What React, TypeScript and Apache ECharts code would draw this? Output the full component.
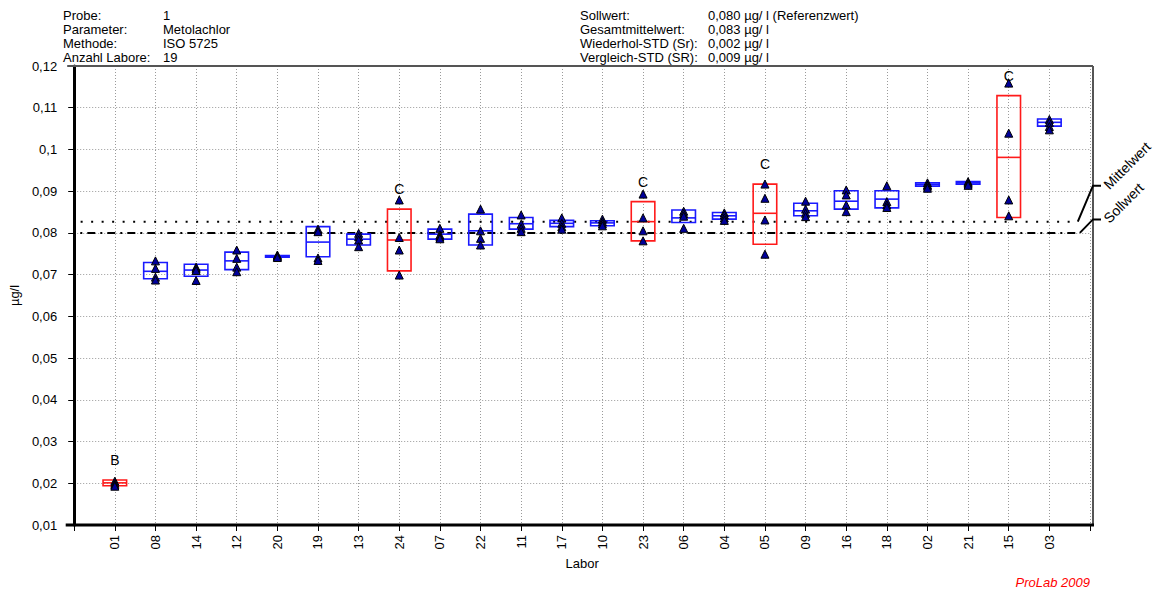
import React, { useEffect, useRef } from 'react';
import * as echarts from 'echarts';

const labs = ['01', '08', '14', '12', '20', '19', '13', '24', '07', '22', '11', '17', '10', '23', '06', '04', '05', '09', '16', '18', '02', '21', '15', '03'];
const boxLow = [0.0194, 0.0690, 0.0696, 0.0712, 0.0742, 0.0743, 0.0771, 0.0709, 0.0785, 0.0771, 0.0809, 0.0815, 0.0817, 0.0781, 0.0825, 0.0833, 0.0773, 0.0841, 0.0857, 0.0860, 0.0912, 0.0917, 0.0837, 0.1056];
const boxHigh = [0.0208, 0.0729, 0.0725, 0.0754, 0.0746, 0.0815, 0.0797, 0.0857, 0.0809, 0.0845, 0.0837, 0.0830, 0.0829, 0.0875, 0.0855, 0.0849, 0.0917, 0.0871, 0.0901, 0.0901, 0.0920, 0.0923, 0.1129, 0.1073];
const boxMid = [0.0201, 0.0708, 0.0711, 0.0733, 0.0744, 0.0778, 0.0785, 0.0783, 0.0797, 0.0805, 0.0822, 0.0823, 0.0824, 0.0827, 0.0836, 0.0841, 0.0847, 0.0853, 0.0876, 0.0881, 0.0916, 0.0920, 0.0981, 0.1065];
const points = [
  [0.0205, 0.0200, 0.0196, 0.0193],
  [0.0733, 0.0715, 0.0694, 0.0687],
  [0.0718, 0.0715, 0.0710, 0.0686],
  [0.0759, 0.0739, 0.0718, 0.0707],
  [0.0747, 0.0745, 0.0743, 0.0741],
  [0.0809, 0.0803, 0.0740, 0.0734],
  [0.0799, 0.0791, 0.0783, 0.0767],
  [0.0879, 0.0789, 0.0759, 0.0699],
  [0.0811, 0.0795, 0.0790, 0.0786],
  [0.0857, 0.0805, 0.0787, 0.0771],
  [0.0843, 0.0821, 0.0811, 0.0803],
  [0.0836, 0.0823, 0.0815, 0.0809],
  [0.0833, 0.0827, 0.0822, 0.0817],
  [0.0893, 0.0836, 0.0805, 0.0781],
  [0.0852, 0.0846, 0.0840, 0.0811],
  [0.0848, 0.0843, 0.0836, 0.0830],
  [0.0917, 0.0883, 0.0831, 0.0749],
  [0.0876, 0.0857, 0.0847, 0.0839],
  [0.0903, 0.0891, 0.0867, 0.0851],
  [0.0913, 0.0875, 0.0867, 0.0861],
  [0.0920, 0.0915, 0.0912, 0.0907],
  [0.0923, 0.0920, 0.0917, 0.0914],
  [0.1159, 0.1039, 0.0879, 0.0841],
  [0.1072, 0.1065, 0.1055, 0.1047],
];
const flags = ['B', '', '', '', '', '', '', 'C', '', '', '', '', '', 'C', '', '', 'C', '', '', '', '', '', 'C', ''];
const sollwert = 0.080;
const mittelwert = 0.0827;
const headerLeft = [['Probe:', '1'], ['Parameter:', 'Metolachlor'], ['Methode:', 'ISO 5725'], ['Anzahl Labore:', '19']];
const headerRight = [
  ['Sollwert:', '0,080 µg/ l (Referenzwert)'],
  ['Gesamtmittelwert:', '0,083 µg/ l'],
  ['Wiederhol-STD (Sr):', '0,002 µg/ l'],
  ['Vergleich-STD (SR):', '0,009 µg/ l'],
];

const FF = '"Liberation Sans", Arial, sans-serif';
const FONT = '13px ' + FF;

function txt(text: string, x: number, y: number, extra: any = {}) {
  return {
    type: 'text',
    x,
    y,
    silent: true,
    style: {
      text,
      font: FONT,
      fill: '#000',
      align: 'left',
      textAlign: 'left',
      verticalAlign: 'middle',
      textVerticalAlign: 'middle',
      ...extra,
    },
  };
}

export default function App() {
  const ref = useRef<HTMLDivElement>(null);
  useEffect(() => {
    document.body.style.margin = '0';
    const chart = echarts.init(ref.current!, null, { renderer: 'svg' });
    const boxData = labs.map((_, i) => [i + 1, boxLow[i], boxHigh[i], boxMid[i]]);
    const pointData: number[][] = [];
    points.forEach((arr, i) => arr.forEach((v) => pointData.push([i + 1, v])));
    const gridLine = { show: true, lineStyle: { color: '#9a9a9a', type: [1, 2], width: 1 } };

    chart.setOption({
      animation: false,
      textStyle: { fontFamily: FF },
      grid: { left: 70, right: 74, top: 66, bottom: 69 },
      xAxis: {
        type: 'value',
        min: 0,
        max: 25,
        interval: 1,
        name: 'Labor',
        nameLocation: 'middle',
        nameGap: 31,
        nameTextStyle: { fontSize: 13, color: '#000', fontFamily: FF },
        axisLine: { show: false },
        axisTick: { show: true, length: 6, lineStyle: { color: '#000', width: 1 } },
        axisLabel: {
          rotate: 90,
          margin: 10,
          fontSize: 13,
          color: '#000',
          fontFamily: FF,
          formatter: (v: number) => labs[Math.round(v) - 1] ?? '',
        },
        splitLine: gridLine,
      },
      yAxis: {
        type: 'value',
        min: 0.01,
        max: 0.12,
        interval: 0.01,
        offset: 7,
        name: 'µg/l',
        nameLocation: 'middle',
        nameGap: 46,
        nameTextStyle: { fontSize: 13, color: '#000', fontFamily: FF },
        axisLine: { show: true, lineStyle: { color: '#000', width: 3 } },
        axisTick: { show: true, length: 6, lineStyle: { color: '#000', width: 1 } },
        axisLabel: {
          margin: 10,
          fontSize: 13,
          color: '#000',
          fontFamily: FF,
          formatter: (v: number) => String(Math.round(v * 100) / 100).replace('.', ','),
        },
        splitLine: gridLine,
      },
      series: [
        {
          type: 'line',
          data: [[-0.17, sollwert], [24.75, sollwert]],
          clip: false,
          symbol: 'none',
          silent: true,
          z: 3,
          lineStyle: { color: '#000', width: 2, type: [8, 5, 2, 5] },
        },
        {
          type: 'line',
          data: [[-0.1, mittelwert], [24.7, mittelwert]],
          clip: false,
          symbol: 'none',
          silent: true,
          z: 3,
          lineStyle: { color: '#000', width: 2, type: [2, 8.5] },
        },
        {
          type: 'custom',
          z: 4,
          data: boxData,
          encode: { x: 0, y: [1, 2, 3] },
          renderItem: (params: any, api: any) => {
            const x = api.value(0);
            const lo = api.value(1);
            const hi = api.value(2);
            const mid = api.value(3);
            const p1 = api.coord([x - 0.29, hi]);
            const p2 = api.coord([x + 0.29, lo]);
            const pm = api.coord([x, mid]);
            const flag = flags[params.dataIndex];
            const color = flag ? '#ff1a1a' : '#1a1aff';
            const children: any[] = [
              {
                type: 'rect',
                shape: { x: p1[0], y: p1[1], width: p2[0] - p1[0], height: Math.max(p2[1] - p1[1], 1) },
                style: { fill: 'none', stroke: color, lineWidth: 1.6 },
              },
              {
                type: 'line',
                shape: { x1: p1[0], y1: pm[1], x2: p2[0], y2: pm[1] },
                style: { stroke: color, lineWidth: 1.6 },
              },
            ];
            if (flag) {
              children.push({
                type: 'text',
                x: pm[0],
                y: p1[1] - 20,
                style: {
                  text: flag,
                  font: '14px ' + FF,
                  fill: '#000',
                  align: 'center',
                  textAlign: 'center',
                  verticalAlign: 'middle',
                  textVerticalAlign: 'middle',
                },
              });
            }
            return { type: 'group', children };
          },
        },
        {
          type: 'scatter',
          z: 5,
          data: pointData,
          symbol: 'triangle',
          symbolSize: 8,
          silent: true,
          itemStyle: { color: '#00009a', borderColor: '#000', borderWidth: 1, opacity: 1 },
        },
      ],
    });

    const tl = chart.convertToPixel({ gridIndex: 0 }, [0, 0.12]) as number[];
    const br = chart.convertToPixel({ gridIndex: 0 }, [25, 0.01]) as number[];
    const yM = (chart.convertToPixel({ gridIndex: 0 }, [0, mittelwert]) as number[])[1];
    const yS = (chart.convertToPixel({ gridIndex: 0 }, [0, sollwert]) as number[])[1];
    const xEndM = (chart.convertToPixel({ gridIndex: 0 }, [24.7, 0]) as number[])[0];
    const xEndS = (chart.convertToPixel({ gridIndex: 0 }, [24.75, 0]) as number[])[0];
    const left = tl[0] - 7;
    const right = br[0] + 3;
    const top = tl[1];
    const bottom = br[1];

    const graphics: any[] = [
      { type: 'line', silent: true, z: 10, shape: { x1: left, y1: top, x2: right, y2: top }, style: { stroke: '#555', lineWidth: 2 } },
      { type: 'line', silent: true, z: 10, shape: { x1: right, y1: top, x2: right, y2: bottom }, style: { stroke: '#555', lineWidth: 2 } },
      { type: 'line', silent: true, z: 10, shape: { x1: left - 1.5, y1: bottom, x2: right + 1, y2: bottom }, style: { stroke: '#000', lineWidth: 3 } },
      {
        type: 'polyline', silent: true, z: 10,
        shape: { points: [[xEndM, yM], [right, yM - 36], [right + 8, yM - 36]] },
        style: { stroke: '#000', lineWidth: 2, fill: 'none' },
      },
      {
        type: 'polyline', silent: true, z: 10,
        shape: { points: [[xEndS, yS], [right, yS - 13.5], [right + 8, yS - 13.5]] },
        style: { stroke: '#000', lineWidth: 2, fill: 'none' },
      },
      { ...txt('Mittelwert', right + 13, yM - 35, { font: '14px ' + FF }), rotation: Math.PI / 4 },
      { ...txt('Sollwert', right + 13, yS - 12.5, { font: '14px ' + FF }), rotation: Math.PI / 4 },
      txt('ProLab 2009', right - 3, 582, { fill: '#ff0000', font: 'italic 13px ' + FF, align: 'right', textAlign: 'right' }),
    ];
    headerLeft.forEach(([a, b], i) => {
      graphics.push(txt(a, 63, 15 + i * 14));
      graphics.push(txt(b, 163, 15 + i * 14));
    });
    headerRight.forEach(([a, b], i) => {
      graphics.push(txt(a, 580, 15 + i * 14));
      graphics.push(txt(b, 708, 15 + i * 14));
    });
    chart.setOption({ graphic: graphics });

    return () => chart.dispose();
  }, []);
  return <div ref={ref} style={{ width: 1164, height: 594 }} />;
}
